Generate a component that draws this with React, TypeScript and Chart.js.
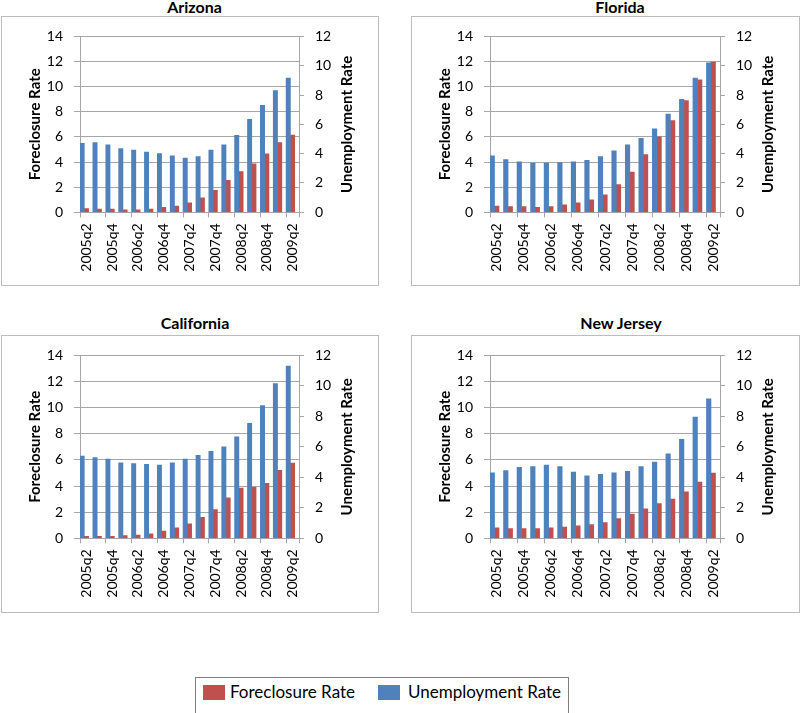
import React, { useEffect, useRef } from 'react';
import { Chart, registerables } from 'chart.js';

Chart.register(...registerables);

// ---------- data ----------
const quarters = [
  '2005q2', '2005q3', '2005q4', '2006q1', '2006q2', '2006q3', '2006q4', '2007q1', '2007q2',
  '2007q3', '2007q4', '2008q1', '2008q2', '2008q3', '2008q4', '2009q1', '2009q2',
];

const arizonaUnemployment = [4.7, 4.75, 4.6, 4.35, 4.25, 4.1, 4.0, 3.85, 3.7, 3.8, 4.25, 4.6, 5.25, 6.35, 7.3, 8.3, 9.15];
const arizonaForeclosure = [0.3, 0.25, 0.25, 0.2, 0.2, 0.25, 0.4, 0.5, 0.75, 1.15, 1.75, 2.55, 3.25, 3.85, 4.65, 5.55, 6.15];

const floridaUnemployment = [3.85, 3.6, 3.45, 3.35, 3.35, 3.4, 3.45, 3.55, 3.8, 4.2, 4.6, 5.05, 5.7, 6.7, 7.7, 9.15, 10.2];
const floridaForeclosure = [0.5, 0.45, 0.45, 0.4, 0.45, 0.6, 0.75, 1.0, 1.4, 2.2, 3.2, 4.6, 6.0, 7.3, 8.9, 10.55, 11.95];

const californiaUnemployment = [5.4, 5.3, 5.2, 4.95, 4.9, 4.85, 4.8, 4.95, 5.2, 5.45, 5.7, 6.0, 6.65, 7.55, 8.7, 10.15, 11.3];
const californiaForeclosure = [0.15, 0.15, 0.15, 0.2, 0.25, 0.35, 0.55, 0.8, 1.1, 1.6, 2.2, 3.1, 3.85, 3.9, 4.2, 5.2, 5.75];

const newJerseyUnemployment = [4.3, 4.45, 4.65, 4.7, 4.8, 4.7, 4.35, 4.1, 4.2, 4.3, 4.4, 4.7, 5.0, 5.55, 6.5, 7.95, 9.15];
const newJerseyForeclosure = [0.8, 0.75, 0.75, 0.75, 0.8, 0.85, 0.95, 1.05, 1.2, 1.5, 1.85, 2.25, 2.65, 3.0, 3.55, 4.3, 5.0];

const foreclosureAxis = { min: 0, max: 14, step: 2 };
const unemploymentAxis = { min: 0, max: 12, step: 2 };

const LABEL_FORECLOSURE = 'Foreclosure Rate';
const LABEL_UNEMPLOYMENT = 'Unemployment Rate';

// ---------- styles ----------
const RED = '#c0504d';
const BLUE = '#4f81bd';
const GRID = '#a6a6a6';
const BOX = '#bcbcbc';
const FONT = 'Lato, "Open Sans", sans-serif';

type Geom = {
  left: number; top: number; width: number; height: number;
  padLeft: number; padRight: number; padTop: number;
  yWidth: number; y1Width: number; xHeight: number;
  titleCenter: number; titleTop: number;
};

function Panel({ title, unemployment, foreclosure, g }: { title: string; unemployment: number[]; foreclosure: number[]; g: Geom }) {
  const ref = useRef<HTMLCanvasElement>(null);
  useEffect(() => {
    const rightTitle = {
      id: 'rightTitle',
      afterDraw(chart: any) {
        const s = chart.scales.y1;
        const ctx = chart.ctx;
        ctx.save();
        ctx.translate(s.right - 13, (s.top + s.bottom) / 2);
        ctx.rotate(-Math.PI / 2);
        ctx.font = `bold 15px ${FONT}`;
        ctx.fillStyle = '#000';
        ctx.textAlign = 'center';
        ctx.textBaseline = 'middle';
        ctx.fillText(LABEL_UNEMPLOYMENT, 0, 0);
        ctx.restore();
      },
    };
    const chart = new Chart(ref.current as HTMLCanvasElement, {
      type: 'bar',
      data: {
        labels: quarters,
        datasets: [
          { label: LABEL_UNEMPLOYMENT, data: unemployment, backgroundColor: BLUE, yAxisID: 'y1' },
          { label: LABEL_FORECLOSURE, data: foreclosure, backgroundColor: RED, yAxisID: 'y' },
          { label: '', data: quarters.map(() => null), yAxisID: 'y' },
        ],
      },
      options: {
        responsive: false,
        animation: false,
        events: [],
        datasets: { bar: { categoryPercentage: 1, barPercentage: 1 } },
        layout: { padding: { left: g.padLeft, right: g.padRight, top: g.padTop, bottom: 0 } },
        plugins: { legend: { display: false }, tooltip: { enabled: false }, title: { display: false } },
        scales: {
          x: {
            offset: true,
            grid: {
              offset: true,
              drawOnChartArea: false,
              drawTicks: true,
              tickLength: 5,
              color: (c: any) => (c.index === undefined || c.index % 2 === 0 ? GRID : 'rgba(0,0,0,0)'),
            },
            border: { color: GRID },
            ticks: {
              autoSkip: false,
              minRotation: 90,
              maxRotation: 90,
              padding: 6,
              color: '#000',
              font: { family: FONT, size: 14 },
              callback: (_v: any, i: number) => (i % 2 === 0 ? quarters[i] : ''),
            },
            afterFit: (s: any) => { s.height = g.xHeight; },
          },
          y: {
            position: 'left',
            min: foreclosureAxis.min,
            max: foreclosureAxis.max,
            ticks: { stepSize: foreclosureAxis.step, padding: 11, color: '#000', font: { family: FONT, size: 14 } },
            grid: { color: GRID, tickLength: 6 },
            border: { color: GRID },
            title: {
              display: true,
              text: LABEL_FORECLOSURE,
              color: '#000',
              font: { family: FONT, size: 15, weight: 'bold' },
              padding: { top: 4, bottom: 4 },
            },
            afterFit: (s: any) => { s.width = g.yWidth; },
          },
          y1: {
            position: 'right',
            min: unemploymentAxis.min,
            max: unemploymentAxis.max,
            ticks: { stepSize: unemploymentAxis.step, padding: 11, color: '#000', font: { family: FONT, size: 14 } },
            grid: { drawOnChartArea: false, color: GRID, tickLength: 5 },
            border: { color: GRID },
            afterFit: (s: any) => { s.width = g.y1Width; },
          },
        },
      } as any,
      plugins: [rightTitle],
    });
    return () => chart.destroy();
  }, []);

  return (
    <>
      <div
        style={{
          position: 'absolute', left: g.titleCenter - 200, top: g.titleTop, width: 400,
          textAlign: 'center', fontFamily: FONT, fontWeight: 'bold', fontSize: 16, lineHeight: '20px', color: '#000',
        }}
      >
        {title}
      </div>
      <div
        style={{
          position: 'absolute', left: g.left, top: g.top, width: g.width, height: g.height,
          boxSizing: 'border-box', border: `1px solid ${BOX}`, background: '#fff',
        }}
      >
        <canvas ref={ref} width={g.width - 2} height={g.height - 2} style={{ display: 'block' }} />
      </div>
    </>
  );
}

const geomAZ: Geom = { left: 1, top: 16, width: 378, height: 270, padLeft: 20, padRight: 17.6, padTop: 18, yWidth: 58, y1Width: 61.4, xHeight: 72.7, titleCenter: 194.5, titleTop: -3.2 };
const geomFL: Geom = { left: 411, top: 16, width: 389, height: 270, padLeft: 20.6, padRight: 17.6, padTop: 18, yWidth: 57.4, y1Width: 61.4, xHeight: 72.7, titleCenter: 620, titleTop: -3.2 };
const geomCA: Geom = { left: 1, top: 335, width: 378, height: 278, padLeft: 20, padRight: 17.6, padTop: 17.3, yWidth: 58, y1Width: 61.4, xHeight: 73.7, titleCenter: 195, titleTop: 313.3 };
const geomNJ: Geom = { left: 411, top: 335, width: 389, height: 278, padLeft: 20.6, padRight: 17.6, padTop: 17.3, yWidth: 57.4, y1Width: 61.4, xHeight: 73.7, titleCenter: 621, titleTop: 313.3 };

export default function App() {
  return (
    <div style={{ position: 'absolute', left: 0, top: 0, width: 800, height: 713, overflow: 'hidden', background: '#fff' }}>
      <Panel title="Arizona" unemployment={arizonaUnemployment} foreclosure={arizonaForeclosure} g={geomAZ} />
      <Panel title="Florida" unemployment={floridaUnemployment} foreclosure={floridaForeclosure} g={geomFL} />
      <Panel title="California" unemployment={californiaUnemployment} foreclosure={californiaForeclosure} g={geomCA} />
      <Panel title="New Jersey" unemployment={newJerseyUnemployment} foreclosure={newJerseyForeclosure} g={geomNJ} />
      <div
        style={{
          position: 'absolute', left: 195, top: 677, width: 374, height: 60,
          boxSizing: 'border-box', border: '1px solid #7f7f7f', background: '#fff',
        }}
      />
      <div style={{ position: 'absolute', left: 203, top: 685, width: 22, height: 15, background: RED }} />
      <div style={{ position: 'absolute', left: 230, top: 681.7, fontFamily: FONT, fontSize: 17, lineHeight: '20px', color: '#000', whiteSpace: 'nowrap' }}>
        {LABEL_FORECLOSURE}
      </div>
      <div style={{ position: 'absolute', left: 378, top: 685, width: 22, height: 15, background: BLUE }} />
      <div style={{ position: 'absolute', left: 408, top: 681.7, fontFamily: FONT, fontSize: 17, lineHeight: '20px', color: '#000', whiteSpace: 'nowrap' }}>
        {LABEL_UNEMPLOYMENT}
      </div>
    </div>
  );
}
